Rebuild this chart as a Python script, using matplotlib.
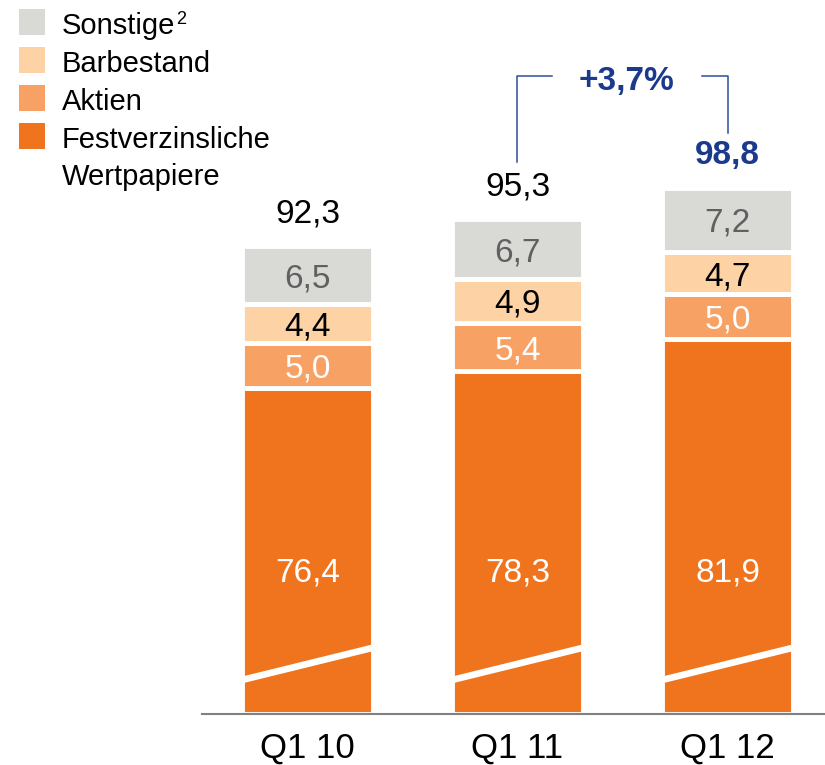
import matplotlib
matplotlib.use("Agg")
import matplotlib.pyplot as plt
from matplotlib.patches import Rectangle
from matplotlib.lines import Line2D

plt.rcParams['font.family'] = ['Liberation Sans', 'DejaVu Sans']

# data (Mrd EUR)
quarters = ["Q1 10", "Q1 11", "Q1 12"]
festverz = [76.4, 78.3, 81.9]
aktien = [5.0, 5.4, 5.0]
barbestand = [4.4, 4.9, 4.7]
sonstige = [6.5, 6.7, 7.2]
totals = [92.3, 95.3, 98.8]

series_labels = ["Sonstige²", "Barbestand", "Aktien", "Festverzinsliche\nWertpapiere"]
series_colors = ["#D9D9D6", "#FDD3A5", "#F7A264", "#F0731E"]
text_colors = ["#606060", "black", "white", "white"]
blue = "#1B3A8C"

cut = 40.0     # broken axis: the bottom of every bar is cut off by this amount
W, H = 825, 765
ppu = 8.95     # pixels per unit

def fmt(v):
    return f"{v:.1f}".replace(".", ",")

fig = plt.figure(figsize=(W / 100, H / 100), dpi=100)
ax = fig.add_axes([202 / W, 51 / H, (W - 202) / W, 714 / H])
ax.set_xlim(-0.502, 2.464)
ax.set_ylim(0, 714 / ppu)

x = list(range(len(quarters)))
width = 0.623
edge = dict(edgecolor="white", linewidth=3.5)

h_f = [v - cut for v in festverz]
ax.bar(x, h_f, width, color=series_colors[3], **edge)
b1 = h_f
ax.bar(x, aktien, width, bottom=b1, color=series_colors[2], **edge)
b2 = [a + b for a, b in zip(b1, aktien)]
ax.bar(x, barbestand, width, bottom=b2, color=series_colors[1], **edge)
b3 = [a + b for a, b in zip(b2, barbestand)]
ax.bar(x, sonstige, width, bottom=b3, color=series_colors[0], **edge)
tops = [a + b for a, b in zip(b3, sonstige)]

# break marks on the orange bars
for i in x:
    ax.add_line(Line2D([i - width / 2, i + width / 2], [3.8, 7.4],
                       color="white", linewidth=4.8, solid_capstyle="butt"))

# segment labels
for i in x:
    ax.text(i, 16.1, fmt(festverz[i]), ha="center", va="center_baseline",
            fontsize=24, color=text_colors[3])
    ax.text(i, b1[i] + aktien[i] / 2, fmt(aktien[i]), ha="center",
            va="center_baseline", fontsize=24, color=text_colors[2])
    ax.text(i, b2[i] + barbestand[i] / 2, fmt(barbestand[i]), ha="center",
            va="center_baseline", fontsize=24, color=text_colors[1])
    ax.text(i, b3[i] + sonstige[i] / 2, fmt(sonstige[i]), ha="center",
            va="center_baseline", fontsize=24, color=text_colors[0])

# totals
for i in x:
    last = i == len(x) - 1
    ax.text(i, tops[i] + 2.6, fmt(totals[i]), ha="center", va="baseline",
            fontsize=24, color=blue if last else "black",
            fontweight="bold" if last else "normal")

# growth bracket
growth = (totals[2] / totals[1] - 1) * 100
yb = tops[2] + 12.5
ax.plot([1, 1, 1.163], [tops[1] + 6.4, yb, yb], color="#2D4D9C", lw=1.1)
ax.plot([1.879, 2, 2], [yb, yb, tops[2] + 6.1], color="#2D4D9C", lw=1.1)
ax.text(1.519, yb - 1.6, "+" + fmt(growth) + "%", ha="center", va="baseline",
        fontsize=24, fontweight="bold", color=blue)

for s in ["top", "left", "right"]:
    ax.spines[s].set_visible(False)
ax.spines["bottom"].set_color("#808080")
ax.spines["bottom"].set_linewidth(1.5)
ax.spines["bottom"].set_zorder(5)
ax.set_yticks([])
ax.set_xticks(x, quarters, fontsize=25)
ax.tick_params(axis="x", length=0, pad=12.5)

# legend, drawn by hand in pixel positions
renderer = fig.canvas.get_renderer()
for k, (lab, col) in enumerate(zip(series_labels, series_colors)):
    ytop = 9 + 38 * k
    fig.add_artist(Rectangle((19 / W, 1 - (ytop + 26) / H), 26 / W, 26 / H,
                             transform=fig.transFigure, color=col, lw=0))
    for j, line in enumerate(lab.split("\n")):
        base = 1 - (ytop + 24.5 + 37.3 * j) / H
        sup = None
        if "²" in line:
            line, sup = line.replace("²", ""), "2"
        t = fig.text(62 / W, base, line, fontsize=21, va="baseline", ha="left")
        if sup:
            bb = t.get_window_extent(renderer)
            fig.text((bb.x1 + 0.5) / W, base + 9 / H, sup, fontsize=13,
                     va="baseline", ha="left")

fig.savefig("out.png", dpi=100)
